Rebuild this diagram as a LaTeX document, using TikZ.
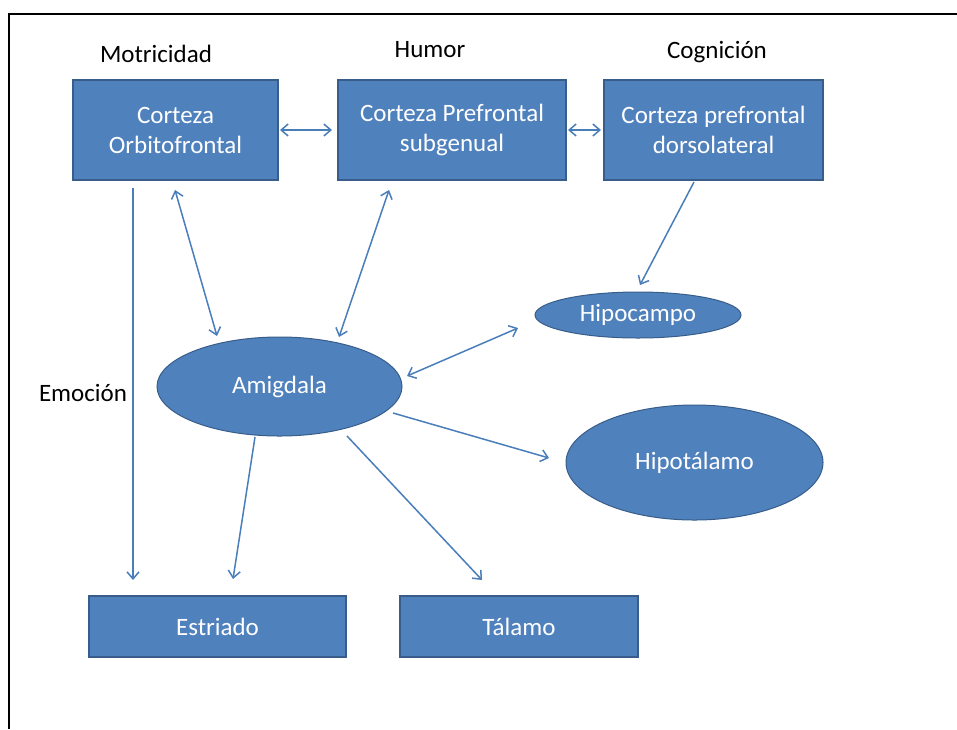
\documentclass[tikz,border=0pt]{standalone}
\usepackage{fontspec}
\setmainfont{Carlito}
\usetikzlibrary{arrows.meta,shapes.geometric}
\definecolor{boxfill}{HTML}{4F81BD}
\definecolor{boxline}{HTML}{385D8A}
\definecolor{arrowc}{HTML}{4A7EBB}
\tikzset{
  x=1pt,y=-1pt,
  every node/.style={font=\fontsize{25}{30}\selectfont},
  rbox/.style={draw=boxline,fill=boxfill,line width=1.2pt,text=white,align=center,inner sep=0pt},
  ebox/.style={ellipse,draw=boxline,fill=boxfill,line width=1pt,text=white,inner sep=0pt},
  lbl/.style={text=black,inner sep=0pt},
  con/.style={draw=arrowc,line width=1.5pt,-{Straight Barb[length=7pt,width=12pt,line width=1.5pt]}},
  dcon/.style={draw=arrowc,line width=1.5pt,{Straight Barb[length=7pt,width=12pt,line width=1.5pt]}-{Straight Barb[length=7pt,width=12pt,line width=1.5pt]}},
}
\begin{document}
\begin{tikzpicture}
\useasboundingbox (0,0) rectangle (957,729);
\draw[line width=2.2pt,black] (957,14) -- (9,14) -- (9,729);
% labels
\node[lbl] (motr) at (156,54) {Motricidad};
\node[lbl] (humor) at (430,50) {Humor};
\node[lbl] (cogn) at (717,52) {Cognición};
\node[lbl] (emoc) at (83,393) {Emoción};
% boxes
\node[rbox,minimum width=205,minimum height=100] (cof) at (175.5,130) {Corteza\\Orbitofrontal};
\node[rbox,minimum width=228,minimum height=100] (cps) at (452,130) {Corteza Prefrontal\\subgenual};
\node[rbox,minimum width=219,minimum height=100] (cpd) at (713.5,130) {Corteza prefrontal\\dorsolateral};
\node[rbox,minimum width=257,minimum height=61] (estr) at (217.5,626.5) {Estriado};
\node[rbox,minimum width=238,minimum height=61] (tal) at (519,626.5) {Tálamo};
% ellipses
\node[ebox,minimum width=206,minimum height=46] (hipoc) at (638,315) {Hipocampo};
\node[ebox,minimum width=245,minimum height=99] (amig) at (279.5,386.5) {Amigdala};
\node[ebox,minimum width=257,minimum height=115] (hipot) at (694.5,462.5) {Hipotálamo};
% anchor points
\coordinate (a1) at (280,130); \coordinate (b1) at (332,130);
\coordinate (a2) at (568,130); \coordinate (b2) at (601,130);
\coordinate (c1) at (133,188); \coordinate (d1) at (133,580);
\coordinate (c2) at (175,190); \coordinate (d2) at (217,336);
\coordinate (c3) at (389,190); \coordinate (d3) at (339,337);
\coordinate (c4) at (694,182); \coordinate (d4) at (640,285);
\coordinate (c5) at (407,376); \coordinate (d5) at (518,328);
\coordinate (c6) at (393,413); \coordinate (d6) at (549,458);
\coordinate (c7) at (255,437); \coordinate (d7) at (233,579);
\coordinate (c8) at (347,436); \coordinate (d8) at (482,580);
\draw[dcon] (a1) -- (b1);
\draw[dcon] (a2) -- (b2);
\draw[con] (c1) -- (d1);
\draw[dcon] (c2) -- (d2);
\draw[dcon] (c3) -- (d3);
\draw[con] (c4) -- (d4);
\draw[dcon] (c5) -- (d5);
\draw[con] (c6) -- (d6);
\draw[con] (c7) -- (d7);
\draw[con] (c8) -- (d8);
\end{tikzpicture}
\end{document}
